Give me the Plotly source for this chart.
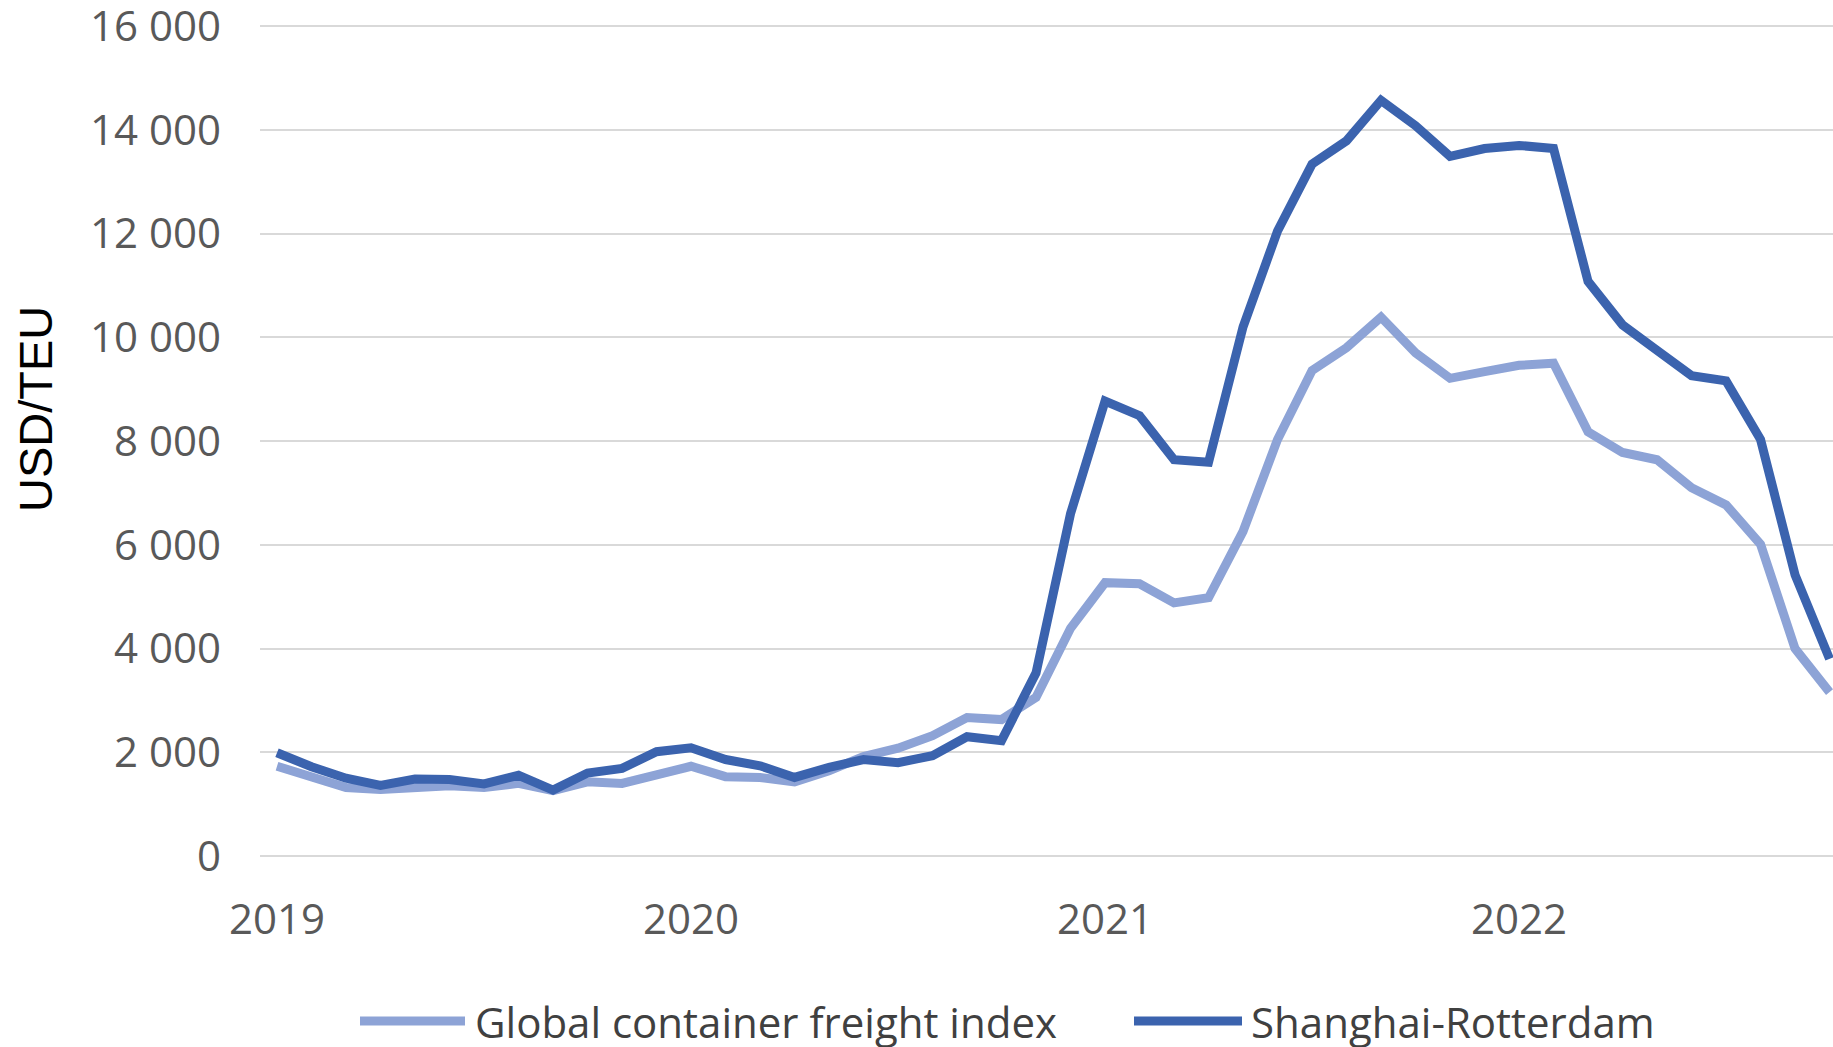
import plotly.graph_objects as go

# Monthly categories Jan 2019 .. Oct 2022
months = [f"{y}-{m:02d}" for y in (2019, 2020, 2021, 2022) for m in range(1, 13)][:46]

tick_vals = ["2019-01", "2020-01", "2021-01", "2022-01"]
tick_text = ["2019", "2020", "2021", "2022"]

global_index = [
    1730, 1515, 1320, 1280, 1320, 1355, 1320, 1400, 1260, 1430, 1400, 1570,
    1730, 1530, 1515, 1430, 1645, 1920, 2080, 2320, 2670, 2630, 3060, 4390,
    5270, 5250, 4880, 4980, 6260, 8030, 9360, 9800, 10390, 9700, 9210, 9340,
    9460, 9500, 8180, 7780, 7640, 7100, 6770, 6010, 4000, 3160,
]

shanghai_rotterdam = [
    1990, 1720, 1500, 1360, 1485, 1475, 1390, 1555, 1270, 1600, 1690, 2010,
    2085, 1860, 1740, 1515, 1710, 1860, 1800, 1935, 2300, 2225, 3530, 6600,
    8770, 8490, 7640, 7590, 10200, 12050, 13340, 13790, 14570, 14080, 13490, 13640,
    13700, 13640, 11080, 10240, 9750, 9260, 9160, 8030, 5420, 3800,
]

y_ticks = [0, 2000, 4000, 6000, 8000, 10000, 12000, 14000, 16000]
y_tick_text = ["0", "2 000", "4 000", "6 000", "8 000", "10 000", "12 000", "14 000", "16 000"]

series_names = ["Global container freight index", "Shanghai-Rotterdam"]
series_colors = ["#8da3d6", "#3b63ae"]
y_title = "USD/TEU"

fig = go.Figure()
fig.add_trace(go.Scatter(
    x=months, y=global_index, mode="lines",
    name=series_names[0],
    line=dict(color=series_colors[0], width=9),
))
fig.add_trace(go.Scatter(
    x=months, y=shanghai_rotterdam, mode="lines",
    name=series_names[1],
    line=dict(color=series_colors[1], width=9),
))

# plot area geometry (px): left 260, right 1833, y=0 at 856, y=16000 at 26
PL, PW = 260, 1573
PB, PH = 856, 834


def px_x(v):
    return (v - PL) / PW


def px_y(v):
    return (PB - v) / PH


legend_y = px_y(1021)
legend_items = [
    (px_x(360), px_x(465), px_x(473)),
    (px_x(1134), px_x(1242), px_x(1249)),
]
shapes = []
annotations = []
for (x0, x1, xt), name, color in zip(legend_items, series_names, series_colors):
    shapes.append(dict(type="line", xref="paper", yref="paper", x0=x0, x1=x1,
                       y0=legend_y, y1=legend_y, line=dict(color=color, width=9)))
    annotations.append(dict(xref="paper", yref="paper", x=xt, y=legend_y,
                            xanchor="left", yanchor="middle", showarrow=False,
                            text=name, font=dict(size=42, color="#404040")))

annotations.append(dict(xref="paper", yref="paper", x=px_x(35), y=px_y(409),
                        xanchor="center", yanchor="middle", showarrow=False, textangle=-90,
                        text=y_title, font=dict(family="Liberation Sans", size=47, color="#000000")))

fig.update_layout(
    width=1833, height=1047,
    margin=dict(l=260, r=0, t=22, b=191),
    paper_bgcolor="white", plot_bgcolor="white",
    font=dict(family="Open Sans", size=42, color="#595959"),
    showlegend=False,
    shapes=shapes,
    annotations=annotations,
    xaxis=dict(
        type="category",
        range=[-0.493, 45.1],
        tickmode="array", tickvals=tick_vals, ticktext=tick_text,
        showgrid=False, showline=False, zeroline=False,
        ticks="", ticklabelstandoff=35, automargin=False,
        tickfont=dict(size=42, color="#595959"),
    ),
    yaxis=dict(
        range=[0, 16080],
        tickmode="array", tickvals=y_ticks, ticktext=y_tick_text,
        showgrid=True, gridcolor="#d9d9d9", gridwidth=2,
        zeroline=True, zerolinecolor="#d9d9d9", zerolinewidth=2,
        showline=False, ticks="", ticklabelstandoff=38, automargin=False,
        ticklabeloverflow="allow",
        tickfont=dict(size=42, color="#595959"),
    ),
)

fig.write_html(
    "out.html",
    config={"displayModeBar": False},
    post_script="document.body.style.margin='0';document.body.style.overflow='hidden';",
)
